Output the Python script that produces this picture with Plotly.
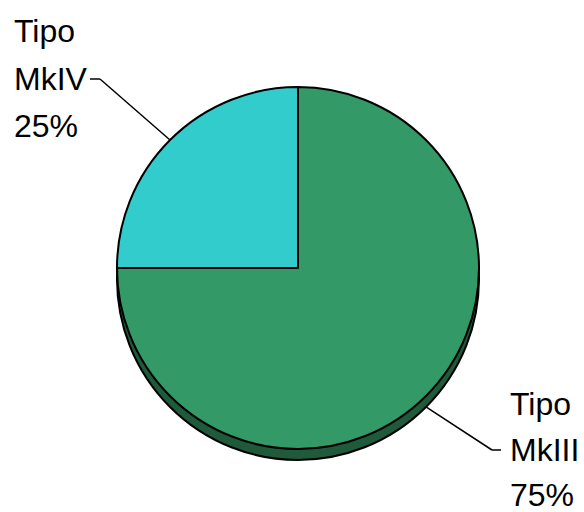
import math
import plotly.graph_objects as go

# ---- data ----
series_names = ["MkIV", "MkIII"]
prefix = "Tipo"
values = [25, 75]
colors = ["#33CCCC", "#339966"]
shadow_color = "#1F5A3A"

W, H = 584, 512
cx, cy, r = 298, 268, 181      # pie centre / radius in px
shadow_dy = 11

def px(x):
    return x / W

def py(y):
    return 1 - y / H

fig = go.Figure()

common = dict(values=values, labels=series_names, sort=False,
              direction="clockwise", rotation=-90, textinfo="none", showlegend=False)

# shadow pie (drawn first, offset downward)
fig.add_trace(go.Pie(
    marker=dict(colors=[shadow_color] * len(values), line=dict(color="black", width=2)),
    hoverinfo="skip",
    domain=dict(x=[px(cx - r), px(cx + r)], y=[py(cy + shadow_dy + r), py(cy + shadow_dy - r)]),
    **common,
))

# main pie
fig.add_trace(go.Pie(
    marker=dict(colors=colors, line=dict(color="black", width=2)),
    domain=dict(x=[px(cx - r), px(cx + r)], y=[py(cy + r), py(cy - r)]),
    **common,
))

# labels + leader lines (slice mid-angles from the data, math convention)
total = sum(values)
label_layout = {
    "MkIV": dict(x=12, ys=[31, 79, 126], elbow=(100, 79), end=(90, 79), edge_extra=0),
    "MkIII": dict(x=508, ys=[404, 450, 495], elbow=(492, 450), end=(501, 450), edge_extra=shadow_dy),
}
start = 180.0   # 9 o'clock, going clockwise
for name, v in zip(series_names, values):
    frac = v / total
    mid = start - frac * 360 / 2
    start -= frac * 360
    ex = cx + r * math.cos(math.radians(mid))
    ey = cy - r * math.sin(math.radians(mid))
    L = label_layout[name]
    if math.sin(math.radians(mid)) < 0:
        ey += L["edge_extra"]
    pct = f"{round(frac * 100)}%"
    for t, yy in zip([prefix, name, pct], L["ys"]):
        fig.add_annotation(x=px(L["x"]), y=py(yy), xref="paper", yref="paper",
                           text=t, showarrow=False, xanchor="left", yanchor="middle",
                           font=dict(family="Liberation Sans, Arial", size=32, color="black"))
    fig.add_shape(type="line", xref="paper", yref="paper",
                  x0=px(ex), y0=py(ey), x1=px(L["elbow"][0]), y1=py(L["elbow"][1]),
                  line=dict(color="black", width=1.5))
    fig.add_shape(type="line", xref="paper", yref="paper",
                  x0=px(L["elbow"][0]), y0=py(L["elbow"][1]), x1=px(L["end"][0]), y1=py(L["end"][1]),
                  line=dict(color="black", width=1.5))

fig.update_layout(width=W, height=H, margin=dict(l=0, r=0, t=0, b=0),
                  paper_bgcolor="white", plot_bgcolor="white")
fig.write_html("out.html")
